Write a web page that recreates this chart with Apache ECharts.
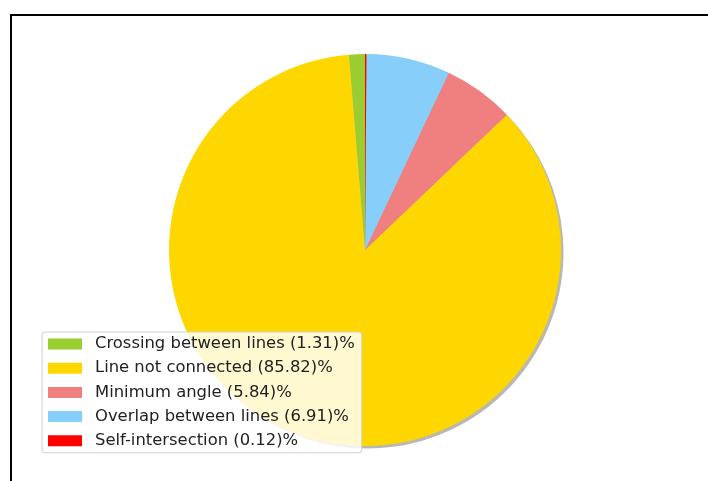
<!DOCTYPE html>
<html><head><meta charset="utf-8">
<script src="https://cdn.jsdelivr.net/npm/echarts@6/dist/echarts.min.js"></script>
<style>html,body{margin:0;padding:0;background:#fff}#c{width:708px;height:481px}</style>
</head><body><div id="c"></div>
<script>
const categories = ['Crossing between lines', 'Line not connected', 'Minimum angle', 'Overlap between lines', 'Self-intersection'];
const values = [1.31, 85.82, 5.84, 6.91, 0.12];
const colors = ['#9acd32', '#ffd700', '#f08080', '#87cefa', '#ff0000'];

const labels = categories.map((c, i) => c + ' (' + values[i].toFixed(2) + ')%');
const chart = echarts.init(document.getElementById('c'), null, {renderer: 'canvas'});
const center = [365, 250];
const radius = 196;
chart.setOption({
  animation: false,
  backgroundColor: '#fff',
  graphic: [
    {type: 'line', shape: {x1: 10, y1: 15, x2: 708, y2: 15}, style: {stroke: '#000', lineWidth: 2}},
    {type: 'line', shape: {x1: 11, y1: 15, x2: 11, y2: 481}, style: {stroke: '#000', lineWidth: 2}}
  ],
  legend: {
    orient: 'vertical',
    left: 42, top: 332,
    data: labels,
    icon: 'rect',
    itemWidth: 34, itemHeight: 11,
    itemGap: 8.2,
    padding: [4, 7, 4, 6],
    backgroundColor: 'rgba(255,255,255,0.82)',
    borderColor: '#d0d0d0', borderWidth: 1, borderRadius: 3,
    textStyle: {fontFamily: 'DejaVu Sans', fontSize: 16.4, lineHeight: 16, color: '#222', padding: [0, 0, 0, 8]},
    selectedMode: false,
    z: 10
  },
  series: [
    {
      type: 'pie', silent: true, z: 1,
      center: [center[0] + 2.5, center[1] + 2.5], radius: radius,
      startAngle: 90, clockwise: false,
      label: {show: false}, labelLine: {show: false},
      itemStyle: {color: 'rgba(70,70,50,0.38)', borderWidth: 0},
      data: values.map((v, i) => ({value: v, name: '_shadow' + i}))
    },
    {
      type: 'pie', z: 2,
      center: center, radius: radius,
      startAngle: 90, clockwise: false,
      minAngle: 0, avoidLabelOverlap: false,
      label: {show: false}, labelLine: {show: false},
      emphasis: {disabled: true},
      itemStyle: {borderWidth: 0},
      data: values.map((v, i) => ({value: v, name: labels[i], itemStyle: {color: colors[i]}}))
    }
  ]
});
</script></body></html>
